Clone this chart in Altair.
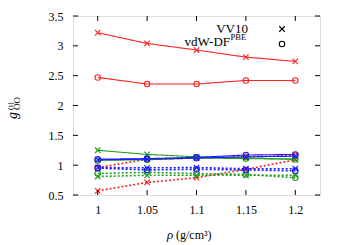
import altair as alt
import pandas as pd

# ---- data ----
rho = [1.0, 1.05, 1.1, 1.15, 1.2]
x_ticks = [1.0, 1.05, 1.1, 1.15, 1.2]
y_ticks = [0.5, 1.0, 1.5, 2.0, 2.5, 3.0, 3.5]

red_solid_vv10 = [3.22, 3.04, 2.93, 2.81, 2.74]
red_solid_vdw = [2.47, 2.36, 2.36, 2.42, 2.42]
red_dot_vv10 = [0.57, 0.71, 0.79, 0.93, 1.09]
red_dot_vdw = [0.96, 1.10, 1.12, 1.14, 1.16]
green_solid_vv10 = [1.25, 1.18, 1.14, 1.12, 1.10]
green_solid_vdw = [1.08, 1.09, 1.12, 1.11, 1.10]
green_dot_vv10 = [0.81, 0.83, 0.83, 0.83, 0.83]
green_dot_vdw = [0.86, 0.88, 0.86, 0.845, 0.79]
blue_solid_vv10 = [1.09, 1.10, 1.12, 1.14, 1.15]
blue_solid_vdw = [1.10, 1.11, 1.13, 1.17, 1.18]
blue_dot_vv10 = [0.96, 0.955, 0.96, 0.94, 0.94]
blue_dot_vdw = [0.95, 0.92, 0.93, 0.92, 0.905]

series = [
    ("01", "red", "solid", "VV10", red_solid_vv10),
    ("02", "red", "solid", "vdW", red_solid_vdw),
    ("03", "red", "dotted", "VV10", red_dot_vv10),
    ("04", "red", "dotted", "vdW", red_dot_vdw),
    ("05", "green", "solid", "VV10", green_solid_vv10),
    ("06", "green", "solid", "vdW", green_solid_vdw),
    ("07", "green", "dotted", "VV10", green_dot_vv10),
    ("08", "green", "dotted", "vdW", green_dot_vdw),
    ("09", "blue", "dotted", "VV10", blue_dot_vv10),
    ("10", "blue", "dotted", "vdW", blue_dot_vdw),
    ("11", "blue", "solid", "VV10", blue_solid_vv10),
    ("12", "blue", "solid", "vdW", blue_solid_vdw),
]

rows = []
for sid, col, sty, meth, vals in series:
    for i, (xv, yv) in enumerate(zip(rho, vals)):
        rows.append({"sid": sid, "col": col, "sty": sty, "meth": meth,
                     "x": xv, "y": yv, "o": i})
df = pd.DataFrame(rows)

W, H = 247, 179
FONT = "Liberation Serif"

xscale = alt.Scale(domain=[0.975, 1.225], nice=False, zero=False)
yscale = alt.Scale(domain=[0.5, 3.5], nice=False, zero=False)
cscale = alt.Scale(domain=["red", "green", "blue"],
                   range=["#ff2020", "#1f9e1f", "#1a1aff"])
dscale = alt.Scale(domain=["solid", "dotted"], range=[[1, 0], [2, 2]])
wscale = alt.Scale(domain=["solid", "dotted"], range=[1.1, 1.6])
shscale = alt.Scale(domain=["VV10", "vdW"],
                    range=["M-1,-1L1,1M-1,1L1,-1", "circle"])

xaxis = alt.Axis(values=x_ticks, format="~g", ticks=False, domain=False,
                 grid=False, labelFont=FONT, labelFontSize=12,
                 labelColor="black", labelPadding=9, title=None)
yaxis = alt.Axis(values=y_ticks, format="~g", ticks=False, domain=False,
                 grid=False, labelFont=FONT, labelFontSize=12,
                 labelColor="black", labelPadding=10, title=None)

X = alt.X("x:Q", scale=xscale, axis=xaxis)
Y = alt.Y("y:Q", scale=yscale, axis=yaxis)

base = alt.Chart(df)
lines = base.mark_line().encode(
    x=X, y=Y,
    color=alt.Color("col:N", scale=cscale, legend=None),
    strokeDash=alt.StrokeDash("sty:N", scale=dscale, legend=None),
    strokeWidth=alt.StrokeWidth("sty:N", scale=wscale, legend=None),
    detail="sid:N",
    order="o:Q",
)
points = base.mark_point(filled=False, strokeWidth=1.1, size=30, opacity=1).encode(
    x=X, y=Y,
    color=alt.Color("col:N", scale=cscale, legend=None),
    shape=alt.Shape("meth:N", scale=shscale, legend=None),
)

# inward ticks on all four sides
xt = alt.Chart(pd.DataFrame({"x": x_ticks}))
yt = alt.Chart(pd.DataFrame({"y": y_ticks}))
tick_style = dict(color="black", strokeWidth=1)
xb = xt.mark_rule(**tick_style).encode(x=X, y=alt.value(H), y2=alt.value(H - 5))
xtop = xt.mark_rule(**tick_style).encode(x=X, y=alt.value(0), y2=alt.value(5))
yl = yt.mark_rule(**tick_style).encode(y=Y, x=alt.value(0), x2=alt.value(5))
yr = yt.mark_rule(**tick_style).encode(y=Y, x=alt.value(W), x2=alt.value(W - 5))


def txt(s, x, y, size=12, align="left", baseline="alphabetic", angle=0,
        style="normal"):
    return alt.Chart(pd.DataFrame({"t": [s]})).mark_text(
        font=FONT, fontSize=size, align=align, baseline=baseline,
        angle=angle, fontStyle=style, color="black"
    ).encode(text="t:N", x=alt.value(x), y=alt.value(y))


def sym(shape, x, y):
    return alt.Chart(pd.DataFrame({"t": [0]})).mark_point(
        shape=shape, filled=False, size=30, strokeWidth=1.1, color="black",
        opacity=1
    ).encode(x=alt.value(x), y=alt.value(y))


# legend
leg = [
    txt("VV10", 175, 17, size=13, align="right"),
    sym("M-1,-1L1,1M-1,1L1,-1", 209, 13),
    txt("vdW-DF", 157, 30, size=13, align="right"),
    txt("PBE", 157.5, 24, size=8.5, align="left"),
    sym("circle", 209, 28),
]

# axis titles
titles = [
    txt("ρ", 94, 223, size=13, style="italic"),
    txt("(g/cm³)", 103, 223, size=12),
    txt("g", -56, 103, size=14, angle=270, style="italic"),
    txt("OO", -53, 94, size=9, angle=270),
    txt("(i)", -60, 94, size=8, angle=270),
]

chart = alt.layer(lines, points, xb, xtop, yl, yr, *leg, *titles).properties(
    width=W, height=H,
    autosize=alt.AutoSizeParams(type="none"),
    padding={"left": 65, "top": 8, "right": 20, "bottom": 48},
).configure_view(stroke="black", strokeWidth=1).configure(background="white")

chart.save("out.html", embed_options={"renderer": "svg", "actions": False})
